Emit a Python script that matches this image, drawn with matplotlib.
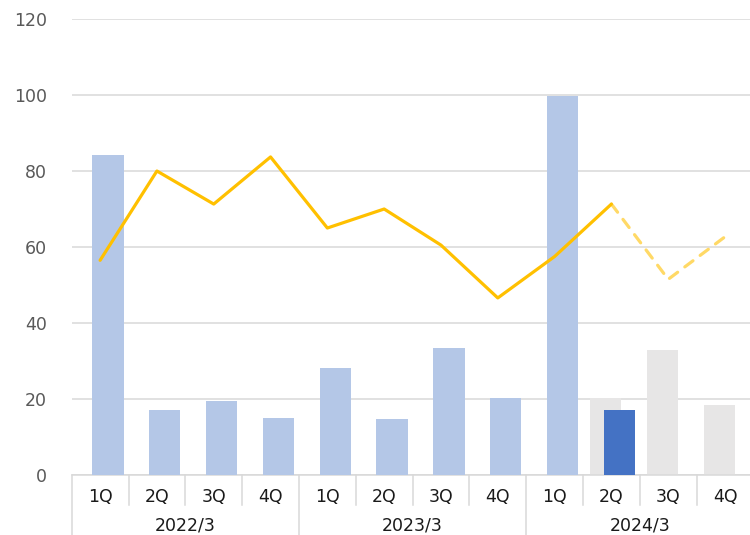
import matplotlib
matplotlib.use("Agg")
import matplotlib.pyplot as plt
import matplotlib.transforms as mtransforms
import numpy as np

plt.rcParams["font.family"] = ["DejaVu Sans"]

quarters = ["1Q", "2Q", "3Q", "4Q", "1Q", "2Q", "3Q", "4Q", "1Q", "2Q", "3Q", "4Q"]
years = ["2022/3", "2023/3", "2024/3"]
actual_bars = [84.2, 17.1, 19.5, 15.0, 28.2, 14.7, 33.4, 20.3, 99.8, 17.1, None, None]
plan_bars = [None, None, None, None, None, None, None, None, None, 20.4, 32.9, 18.4]
line_actual = [56.5, 80.0, 71.3, 83.7, 65.0, 70.0, 60.5, 46.6, 57.5, 71.3, None, None]
line_forecast = [None, None, None, None, None, None, None, None, None, 71.3, 51.5, 62.7]
yticks = [0, 20, 40, 60, 80, 100, 120]

light_blue = "#B4C7E7"
dark_blue = "#4472C4"
grey_bar = "#E7E6E6"
gold = "#FFC000"
light_gold = "#FFD966"
grid_c = "#D9D9D9"

fig = plt.figure(figsize=(7.5, 5.35), dpi=100)
ax = fig.add_axes([0.0956, 0.1121, 0.909, 0.8524])

x = np.arange(len(quarters))
w = 0.55
for i, v in enumerate(plan_bars):
    if v is not None:
        ax.bar(x[i] - 0.1, v, width=w, color=grey_bar, zorder=2)
for i, v in enumerate(actual_bars):
    if v is not None:
        c = dark_blue if i == 9 else light_blue
        ax.bar(x[i] + 0.14, v, width=w, color=c, zorder=3)

xa = [i for i, v in enumerate(line_actual) if v is not None]
ya = [v for v in line_actual if v is not None]
ax.plot(xa, ya, color=gold, lw=2.3, zorder=5, solid_joinstyle="round", solid_capstyle="round")
xf = [i for i, v in enumerate(line_forecast) if v is not None]
yf = [v for v in line_forecast if v is not None]
ax.plot(xf, yf, color=light_gold, lw=2.3, zorder=4, linestyle=(0, (3.2, 2.8)), dash_capstyle="round")

ax.set_ylim(0, 120)
ax.set_xlim(-0.5, 11.5)
ax.set_yticks(yticks)
ax.set_yticklabels([str(t) for t in yticks], color="#595959", fontsize=12.5)
ax.tick_params(axis="y", length=0, pad=18)
ax.yaxis.grid(True, color=grid_c, lw=1.1)
ax.set_axisbelow(True)
ax.set_xticks([])
for s in ["top", "right", "left"]:
    ax.spines[s].set_visible(False)
ax.spines["bottom"].set_color(grid_c)
ax.spines["bottom"].set_linewidth(1.1)

trans = mtransforms.blended_transform_factory(ax.transData, ax.transAxes)
for i, q in enumerate(quarters):
    ax.text(i, -0.048, q, transform=trans, ha="center", va="center", fontsize=12.5, color="#1a1a1a", clip_on=False)
for k in range(13):
    b = k - 0.5
    bottom = -0.26 if k % 4 == 0 else -0.065
    ax.plot([b, b], [0, bottom], transform=trans, color=grid_c, lw=1.1, clip_on=False)
for j, yr in enumerate(years):
    ax.text(4 * j + 1.5, -0.11, yr, transform=trans, ha="center", va="center", fontsize=12.5, color="#1a1a1a", clip_on=False)

fig.savefig("out.png", dpi=100)
